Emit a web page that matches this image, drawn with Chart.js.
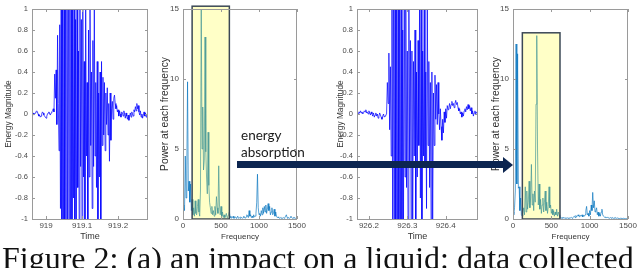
<!DOCTYPE html>
<html>
<head>
<meta charset="utf-8">
<script src="https://cdn.jsdelivr.net/npm/chart.js@4.4.0/dist/chart.umd.min.js"></script>
<style>
  body { margin: 0; width: 640px; height: 268px; overflow: hidden; background: #fff; position: relative; }
  canvas { position: absolute; top: 0; }
  #arrowBar { position: absolute; left: 237px; top: 161px; width: 267px; height: 7px; background: #0c2550; z-index: 3; }
  #arrowHead { position: absolute; left: 503px; top: 157px; width: 0; height: 0; z-index: 3;
    border-top: 8px solid transparent; border-bottom: 8px solid transparent; border-left: 10px solid #0c2550; }
  #arrowText { position: absolute; left: 241px; top: 127px; font: 13.5px Lato, sans-serif; line-height: 16.6px; color: #1a1a1a; z-index: 3; }
  #caption { position: absolute; left: 2px; top: 242px; font: 32px "Liberation Serif", serif; line-height: 32px; white-space: nowrap; color: #111; }
</style>
</head>
<body>
<canvas id="wave1" width="150" height="244" style="left:0"></canvas>
<canvas id="spec1" width="154" height="244" style="left:155px"></canvas>
<canvas id="wave2" width="148" height="244" style="left:332px"></canvas>
<canvas id="spec2" width="153" height="244" style="left:487px"></canvas>
<div id="arrowText">energy<br>absorption</div>
<div id="arrowBar"></div>
<div id="arrowHead"></div>
<div id="caption">Figure 2: (a) an impact on a liquid: data collected by a solid</div>
<script>
// time signals, one sample every 2 ms
const sampleStep = 0.002;
const wave1Start = 918.962;
const wave1 = [
  0, 0.01, -0.01, 0, 0.01, 0.02, 0.03, 0.02, 0, -0.02,
  -0.01, -0.03, -0.02, 0, 0.02, 0.01, -0.01, -0.02, -0.03, -0.04,
  -0.02, 0, 0.01, 0.02, 0, -0.01, 0.01, 0.02, 0.03, 0.05, 0.02,
  0.38, 0.15, 0.42, -0.1, 0.75, 0.1, -0.35,
  0.85, -0.9, 1.3, -1.2, 1.4, -1.5, 1.6, -1.4, 1.8, -1.7,
  1.5, -1.8, 1.9, -1.6, 1.7, -1.9, 1.5, -1.3, 1.2, -0.8,
  1.1, -1.2, 0.9, -1.4, 1.3, -0.7, 0.6, -1.1, 1.2, -0.5,
  0.9, -1.3, 1.1, -0.6, 0.5, -1.05, 1.2, -0.4, 0.3, -1.2,
  0.8, -0.6, 1.1, -0.3, 0.4, -0.9, 0.7, -0.5, 1.05, -0.4,
  0.3, -0.7, 0.5, -1.1, 0.2, -0.6, 0.4, -1.05,
  0.5, -0.3, 0.35, -0.2, 0.3, -0.35, 0.2, -0.1, 0.25, -0.2,
  0.1, -0.45, 0.2, -0.25, 0.05, 0.12, -0.05, 0.15, 0.18, 0.1,
  0.05, 0.08, 0.02, 0.04, -0.02, 0.03, 0.0, -0.03, 0.02, 0.01,
  -0.02, 0.03, 0.0, -0.04, 0.01, -0.02, -0.05, -0.01, -0.06, -0.02,
  0.01, -0.03, 0.02, 0.0, -0.02, 0.04, 0.02, 0.07, 0.03, 0.1,
  0.05, 0.08, 0.02, -0.01, 0.03, -0.03, 0.0, -0.04, -0.01, 0.02,
  -0.02, 0.01, -0.03, 0.0, -0.02
];
const wave2Start = 926.170;
const wave2 = [
  0.01, 0, 0.02, 0.01, 0.03, 0.01, 0.02, 0, 0.01, 0.03,
  0.02, 0.04, 0.01, 0.02, 0, 0.03, 0.01, -0.01, 0.02, 0,
  -0.02, 0.01, -0.03, -0.01, 0.01, -0.02, 0, -0.04, -0.02, 0.01,
  -0.01, -0.03, -0.05, -0.02, 0, -0.03, -0.02, -0.01, 0.0,
  0.3, 0.1, 0.58, -0.15, 0.45, -0.4,
  1.2, -1.3, 1.5, -1.6, 1.8, -1.5, 1.7, -1.9, 1.6, -1.7,
  1.9, -1.4, 1.5, -1.2, 0.8, -1.1, 1.3, -0.6, 1.1, -0.7,
  0.6, -1.2, 1.2, -0.5, 0.7, -1.1, 0.6, -1.3, 0.5, -0.4,
  0.8, -1.05, 0.4, -0.6, 0.7, -0.3, 1.1, -0.8, 1.2, -1.1,
  0.6, -0.4, 1.15, -0.5, 0.4, -0.9, 1.05, -0.3, 0.5, -0.7,
  0.3, -1.1, 0.4, -1.05, 0.2,
  -0.3, 0.37, -0.05, 0.28, -0.1, 0.3, 0.0, -0.15, 0.05, -0.12,
  -0.25, -0.05, -0.18, 0.02, -0.08, 0.05, -0.04, 0.08, 0.04,
  0.06, 0.1, 0.05, 0.09, 0.12, 0.08, 0.1, 0.06, 0.1, 0.13,
  0.09, 0.11, 0.06, 0.03, 0.05, 0.0, 0.02, -0.03, 0.01, -0.02,
  0.03, 0.05, 0.02, 0.07, 0.04, 0.09, 0.05, 0.08, 0.03, 0.06,
  0.0, 0.03, -0.02, 0.01, 0.03, 0.0, 0.02, 0.01, 0.03
];

// spectra, 0..1500 Hz every 10 Hz
const freqStep = 10;
const spectrum1 = [
  0.9, 1.0, 0.6, 4.5, 1.5, 3.5, 9.8, 2.0, 2.7, 1.2,
  2.5, 0.6, 1.4, 0.3, 0.8, 0.2, 1.3, 0.4, 0.3, 0.9,
  1.4, 0.5, 0.2, 2.0, 15.5, 5.0, 8.0, 3.5, 4.2, 13.0,
  4.8, 3.0, 1.8, 6.2, 2.4, 1.2, 0.8, 0.4, 0.9, 0.3,
  0.6, 0.2, 0.9, 0.3, 1.6, 0.8, 0.4, 3.8, 1.0, 0.3,
  0.9, 0.2, 0.5, 0.1, 0.3, 0.1, 0.2, 0.4, 0.1, 0.2,
  0.3, 0.5, 0.1, 0.2, 0.05, 0.1, 0.2, 0.05, 0.1, 0.15,
  0.05, 0.1, 0.2, 0.05, 0.1, 0.05, 0.15, 0.1, 0.05, 0.1,
  0.2, 0.1, 0.05, 0.15, 0.3, 0.2, 0.1, 0.6, 0.2, 0.3,
  0.1, 0.2, 0.1, 0.3, 0.15, 0.2, 0.4, 1.2, 3.2, 0.8,
  0.3, 0.4, 0.2, 0.6, 0.3, 0.8, 0.4, 0.9, 0.5, 1.0,
  0.4, 0.7, 1.1, 0.6, 0.9, 0.3, 0.5, 0.8, 0.3, 0.4,
  0.7, 0.2, 0.5, 0.2, 0.1, 0.15, 0.1, 0.05, 0.1, 0.05,
  0.1, 0.05, 0.1, 0.05, 0.1, 0.2, 0.3, 0.1, 0.05, 0.1,
  0.05, 0.1, 0.2, 0.1, 0.05, 0.1, 0.05, 0.1, 0.05, 0.1,
  0.05
];
const spectrum2 = [
  0.5, 0.3, 0.8, 2.0, 12.5, 2.5, 11.8, 2.2, 2.3, 0.6,
  1.5, 0.3, 0.2, 0.4, 0.8, 0.3, 2.3, 0.5, 2.0, 0.7,
  1.2, 2.7, 0.8, 1.5, 3.9, 1.0, 1.8, 0.6, 2.0, 1.2,
  8.2, 13.1, 5.0, 1.0, 2.5, 0.7, 1.4, 0.4, 1.0, 1.5,
  0.5, 1.2, 2.0, 0.6, 1.2, 0.4, 0.9, 2.3, 0.8, 1.0,
  0.4, 0.7, 0.3, 0.6, 0.2, 0.5, 0.3, 0.7, 0.2, 0.5,
  0.3, 0.1, 0.15, 0.05, 0.1, 0.05, 0.1, 0.08, 0.05, 0.1,
  0.05, 0.08, 0.04, 0.1, 0.05, 0.08, 0.12, 0.05, 0.1, 0.15,
  0.2, 0.1, 0.25, 0.15, 0.2, 0.3, 0.2, 0.15, 0.25, 0.2,
  0.3, 0.15, 0.25, 0.2, 0.3, 0.6, 0.9, 0.3, 0.4, 0.2,
  0.6, 0.3, 1.0, 0.6, 1.9, 0.8, 1.3, 0.5, 0.6, 0.8,
  0.3, 0.5, 0.2, 0.4, 0.2, 0.5, 0.7, 0.3, 0.2, 0.15,
  0.1, 0.15, 0.1, 0.12, 0.08, 0.1, 0.05, 0.1, 0.08, 0.05,
  0.1, 0.05, 0.08, 0.05, 0.1, 0.05, 0.08, 0.04, 0.06, 0.03,
  0.05, 0.04, 0.06, 0.03, 0.05, 0.03, 0.04, 0.02, 0.03, 0.02,
  0.02
];

// highlighted band [fromHz, toHz, fromPower, toPower]
const band1 = [120, 610, 0, 15.2];
const band2 = [122, 613, 0, 13.3];

const timeTicks1 = [919, 919.1, 919.2];
const timeLabels1 = ['919', '919.1', '919.2'];
const timeTicks2 = [926.2, 926.3, 926.4];
const timeLabels2 = ['926.2', '926.3', '926.4'];
const ampTicks = [-1, -0.8, -0.6, -0.4, -0.2, 0, 0.2, 0.4, 0.6, 0.8, 1];
const ampLabels = ['-1', '-0.8', '-0.6', '-0.4', '-0.2', '0', '0.2', '0.4', '0.6', '0.8', '1'];
const freqTicks = [0, 500, 1000, 1500];
const freqLabels = ['0', '500', '1000', '1500'];
const powerTicks = [0, 5, 10, 15];
const powerLabels = ['0', '5', '10', '15'];

const toPoints = (vals, start, step) => vals.map((v, i) => ({x: start + i * step, y: v}));

// matlab-like box, inward ticks and the yellow band
const axesLook = {
  id: 'axesLook',
  afterDatasetsDraw(chart, args, opts) {
    const b = opts.band;
    if (!b) return;
    const {x, y} = chart.scales;
    const ctx = chart.ctx;
    const l = x.getPixelForValue(b[0]), r = x.getPixelForValue(b[1]);
    const t = y.getPixelForValue(b[3]), bt = y.getPixelForValue(b[2]);
    ctx.save();
    ctx.fillStyle = 'rgba(255,255,0,0.22)';
    ctx.fillRect(l, t, r - l, bt - t);
    ctx.strokeStyle = '#3b4856';
    ctx.lineWidth = 1.5;
    ctx.strokeRect(l, t, r - l, bt - t);
    ctx.restore();
  },
  afterDraw(chart) {
    const {ctx, chartArea: a} = chart;
    const {x, y} = chart.scales;
    ctx.save();
    ctx.strokeStyle = '#9a9a9a';
    ctx.lineWidth = 1;
    ctx.strokeRect(Math.round(a.left) + 0.5, Math.round(a.top) + 0.5,
      Math.round(a.right - a.left) - 1, Math.round(a.bottom - a.top));
    ctx.beginPath();
    x.ticks.forEach(tk => {
      const px = Math.round(x.getPixelForValue(tk.value)) + 0.5;
      ctx.moveTo(px, a.bottom); ctx.lineTo(px, a.bottom - 3);
      ctx.moveTo(px, a.top); ctx.lineTo(px, a.top + 3);
    });
    y.ticks.forEach(tk => {
      const py = Math.round(y.getPixelForValue(tk.value)) + 0.5;
      ctx.moveTo(a.left, py); ctx.lineTo(a.left + 3, py);
      ctx.moveTo(a.right, py); ctx.lineTo(a.right - 3, py);
    });
    ctx.stroke();
    ctx.restore();
  }
};

function panel(id, p) {
  return new Chart(document.getElementById(id), {
    type: 'line',
    data: {
      datasets: [{
        data: p.points,
        borderColor: p.color,
        borderWidth: 1,
        pointRadius: 0,
        tension: 0
      }]
    },
    options: {
      responsive: false,
      animation: false,
      events: [],
      layout: {padding: {top: 9, right: p.padRight, left: 0, bottom: 0}},
      plugins: {legend: {display: false}, tooltip: {enabled: false}, axesLook: {band: p.band}},
      scales: {
        x: {
          type: 'linear', min: p.xMin, max: p.xMax,
          grid: {display: false, drawTicks: false}, border: {display: false},
          afterBuildTicks: s => { s.ticks = p.xTicks.map(v => ({value: v})); },
          ticks: {callback: (v, i) => p.xLabels[i], padding: 2, maxRotation: 0, autoSkip: false,
                  color: '#4a4a4a', font: {family: 'Liberation Sans', size: 8}},
          title: {display: true, text: p.xTitle, color: '#333', padding: {top: 0, bottom: 2},
                  font: {family: 'Liberation Sans', size: p.xTitleSize}},
          afterFit: s => { s.height = 25; s.paddingLeft = 0; s.paddingRight = 0; }
        },
        y: {
          min: p.yMin, max: p.yMax,
          grid: {display: false, drawTicks: false}, border: {display: false},
          afterBuildTicks: s => { s.ticks = p.yTicks.map(v => ({value: v})); },
          ticks: {callback: (v, i) => p.yLabels[i], padding: 4, autoSkip: false,
                  color: '#4a4a4a', font: {family: 'Liberation Sans', size: p.yTickSize}},
          title: {display: true, text: p.yTitle, color: '#333', padding: {top: p.yTitlePad, bottom: 0},
                  font: {family: 'Liberation Sans', size: p.yTitleSize}},
          afterFit: s => { s.width = p.yWidth; s.paddingTop = 0; s.paddingBottom = 0; }
        }
      }
    },
    plugins: [axesLook]
  });
}

panel('wave1', {
  points: toPoints(wave1, wave1Start, sampleStep), color: 'rgba(0,0,255,0.72)',
  xMin: 918.961, xMax: 919.283, xTicks: timeTicks1, xLabels: timeLabels1, xTitle: 'Time', xTitleSize: 9,
  yMin: -1, yMax: 1, yTicks: ampTicks, yLabels: ampLabels, yTickSize: 7.5,
  yTitle: 'Energy Magnitude', yTitleSize: 8.3, yTitlePad: 4, yWidth: 32, padRight: 2, band: null
});
panel('spec1', {
  points: toPoints(spectrum1, 0, freqStep), color: 'rgba(0,114,189,0.65)',
  xMin: 0, xMax: 1500, xTicks: freqTicks, xLabels: freqLabels, xTitle: 'Frequency', xTitleSize: 8,
  yMin: 0, yMax: 15, yTicks: powerTicks, yLabels: powerLabels, yTickSize: 8,
  yTitle: 'Power at each frequency', yTitleSize: 10.3, yTitlePad: 4, yWidth: 28, padRight: 12, band: band1
});
panel('wave2', {
  points: toPoints(wave2, wave2Start, sampleStep), color: 'rgba(0,0,255,0.72)',
  xMin: 926.169, xMax: 926.484, xTicks: timeTicks2, xLabels: timeLabels2, xTitle: 'Time', xTitleSize: 9,
  yMin: -1, yMax: 1, yTicks: ampTicks, yLabels: ampLabels, yTickSize: 7.5,
  yTitle: 'Energy Magnitude', yTitleSize: 8.3, yTitlePad: 3.5, yWidth: 25, padRight: 2, band: null
});
panel('spec2', {
  points: toPoints(spectrum2, 0, freqStep), color: 'rgba(0,114,189,0.65)',
  xMin: 0, xMax: 1500, xTicks: freqTicks, xLabels: freqLabels, xTitle: 'Frequency', xTitleSize: 8,
  yMin: 0, yMax: 15, yTicks: powerTicks, yLabels: powerLabels, yTickSize: 8,
  yTitle: 'Power at each frequency', yTitleSize: 10.3, yTitlePad: 3, yWidth: 26, padRight: 12, band: band2
});
</script>
</body>
</html>
